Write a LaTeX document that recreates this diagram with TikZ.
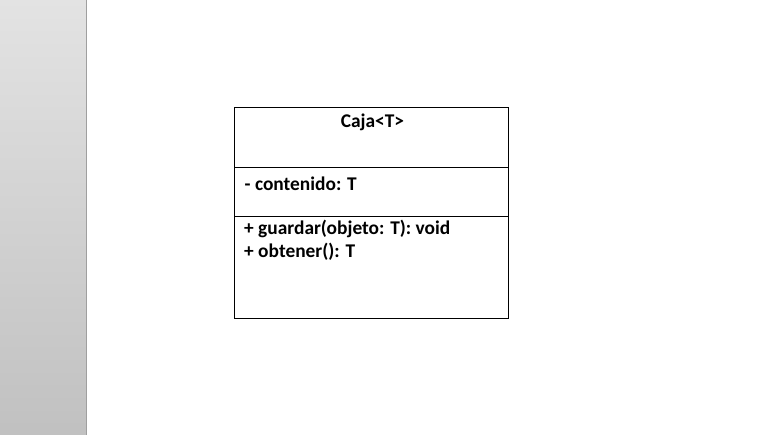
\documentclass[tikz,border=0pt]{standalone}
\usepackage{fontspec}
\setmainfont{Carlito}
\usetikzlibrary{shapes}

\begin{document}
\begin{tikzpicture}[x=1pt,y=-1pt,
                every node/.style={font=\bfseries\fontsize{19.4}{23}\selectfont,inner sep=0pt},
                frame/.style={draw=black,line width=0.8pt}]
  \useasboundingbox (0,0) rectangle (769,435);
  % side panel
  \shade[top color=gray!22,bottom color=gray!49] (0,0) rectangle (86,435);
  \draw[gray!75,line width=1pt] (86,0) -- (86,435);
  % class box
  \draw[frame] (234,107.5) rectangle (508,318);
  \draw[frame] (234,167.5) -- (508,167.5);
  \draw[frame] (234,216) -- (508,216);
  \node[anchor=base]       (name)  at (372.5,127.5) {Caja<T>};
  \node[anchor=base west]  (attr)  at (244.5,190.5) {- contenido: T};
  \node[anchor=base west]  (meth1) at (244,235) {+ guardar(objeto: T): void};
  \node[anchor=base west]  (meth2) at (244,258) {+ obtener(): T};
\end{tikzpicture}
\end{document}
